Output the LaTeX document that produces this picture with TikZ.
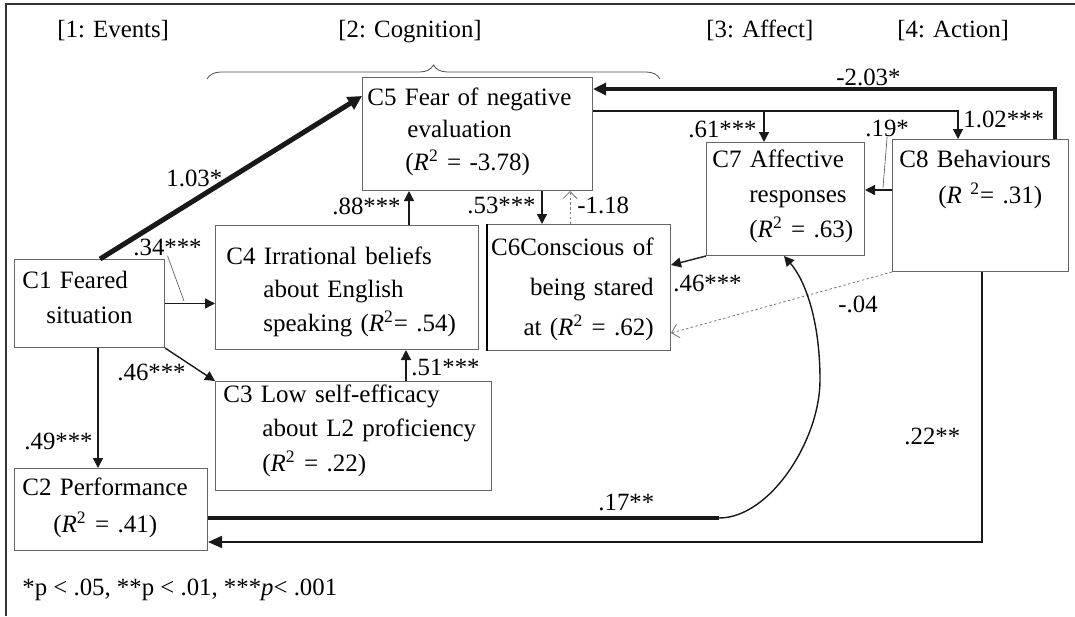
\documentclass[tikz,border=0pt]{standalone}
\usepackage{fontspec}
\setmainfont{Liberation Serif}
\usetikzlibrary{arrows.meta,decorations.pathreplacing}

\begin{document}
\begin{tikzpicture}[x=0.5pt,y=-0.5pt,
  box/.style={draw=black!60, line width=0.5pt, anchor=north west, inner sep=0pt},
  txt/.style={anchor=base west, inner sep=0pt, text width=150pt, align=left,
    font=\fontsize{12.5}{#1}\selectfont},
  lab/.style={anchor=base west, inner sep=0pt, font=\fontsize{12.4}{14}\selectfont},
  conn/.style={draw=black!90, line width=0.7pt, -{Triangle[length=5pt,width=5pt]}},
  dotconn/.style={draw=black!55, line width=0.4pt, dash pattern=on 1.2pt off 1.2pt,
    -{Straight Barb[length=3.5pt,width=7pt]}},
  leader/.style={draw=black!70, line width=0.3pt}]
\def\rsq{\textit{R}\textsuperscript{2}}

\useasboundingbox (0,0) rectangle (1075,616);
\draw[black!80, line width=0.8pt] (1075,4) -- (6,4) -- (6,616);

% stage headings
\node[lab] (events) at (57,37) {[1: Events]};
\node[lab] (cognition) at (338,37) {[2: Cognition]};
\node[lab] (affect) at (706,37) {[3: Affect]};
\node[lab] (action) at (897,37) {[4: Action]};
\draw[black!70, line width=0.4pt, decorate, decoration={brace, amplitude=7pt}]
  (207,79) -- (660,79);

% boxes
\node[box, minimum width=75pt, minimum height=44pt] (c1) at (14,259) {};
\node[box, minimum width=96.5pt, minimum height=41pt] (c2) at (14,468) {};
\node[box, minimum width=138pt, minimum height=54.5pt] (c3) at (215,381) {};
\node[box, minimum width=131.5pt, minimum height=62pt] (c4) at (215,225) {};
\node[box, minimum width=115pt, minimum height=56.5pt] (c5) at (362,77) {};
\node[box, minimum width=91.5pt, minimum height=63pt] (c6) at (487,224) {};
\node[box, minimum width=79pt, minimum height=56.5pt] (c7) at (706,142) {};
\node[box, minimum width=88pt, minimum height=66pt] (c8) at (892,139) {};
\draw[line width=1pt] (c6.north west) -- (c6.south west);

\node[txt=17.5pt] (c1txt) at (22,288) {C1 Feared\\\hspace*{12pt}situation};
\node[txt=18.5pt] (c2txt) at (22,495) {C2 Performance\\\hspace*{15.5pt}(\rsq{} = .41)};
\node[txt=17.25pt] (c3txt) at (223,402)
  {C3 Low self-efficacy\\\hspace*{19.5pt}about L2 proficiency\\\hspace*{19.5pt}(\rsq{} = .22)};
\node[txt=16.75pt] (c4txt) at (226,264)
  {C4 Irrational beliefs\\\hspace*{18.5pt}about English\\\hspace*{18.5pt}speaking (\rsq= .54)};
\node[txt=16.25pt] (c5txt) at (367,105)
  {C5 Fear of negative\\\hspace*{20pt}evaluation\\\hspace*{19pt}(\rsq{} = -3.78)};
\node[txt=20pt, anchor=base east, align=right] (c6txt) at (654,255)
  {C6Conscious of\\being stared\\at (\rsq{} = .62)};
\node[txt=17.5pt] (c7txt) at (712,167)
  {C7 Affective\\\hspace*{18.5pt}responses\\\hspace*{18.5pt}(\rsq{} = .63)};
\node[txt=18pt] (c8txt) at (899,167)
  {C8 Behaviours\\\hspace*{19.5pt}(\textit{R} \textsuperscript{2}= .31)};

% paths
\draw[draw=black!90, line width=2.5pt, -{Triangle[length=7pt,width=7pt]}]
  (c1.north -| 100,0) -- (c5.west |- 0,96);
\draw[conn] (c1.east) -- (c1.east -| c4.west);
\draw[conn] (c1.south east) -- (c3.north west);
\draw[conn] (c1.south -| 98,0) -- (c2.north -| 98,0);
\draw[conn] (c3.north -| 406,0) -- (c4.south -| 406,0);
\draw[conn] (c4.north -| 409,0) -- (c5.south -| 409,0);
\draw[conn] (c5.south -| 542,0) -- (c6.north -| 542,0);
\draw[dotconn] (c6.north -| 570,0) -- (c5.south -| 570,0);

\coordinate (split) at (764,111);
\draw[conn] (c5.east |- split) -| (c8.north -| 958,0);
\draw[conn] (split) -- (c7.north -| split);
\draw[draw=black!90, line width=2pt, -{Triangle[length=6.5pt,width=6pt]}]
  (c8.north -| 1055,0) |- (c5.east |- 0,89);
\draw[conn] (c8.west |- 0,190) -- (c7.east |- 0,190);
\draw[conn] (c7.south west) -- (c6.east |- 0,265);
\draw[dotconn] (c8.south west) -- (c6.east |- 0,333);

\coordinate (bend) at (719,518);
\draw[draw=black!90, line width=1.7pt] (c2.east |- bend) -- (bend);
\draw[conn] (bend) .. controls (770,518) and (820,440) .. (820,380)
  .. controls (820,320) and (805,280) .. (c7.south -| 784,0);
\draw[draw=black!90, line width=0.9pt, -{Triangle[length=7pt,width=6pt]}]
  (c8.south -| 982,0) |- (c2.east |- 0,542);

% coefficients
\node[lab] (lab15) at (166,186) {1.03*};
\node[lab] (lab14) at (133,255) {.34***};
\node[lab] (lab13) at (117,380) {.46***};
\node[lab] (lab12) at (24,449) {.49***};
\node[lab] (lab34) at (411,375) {.51***};
\node[lab] (lab45) at (332,214) {.88***};
\node[lab] (lab56) at (467,213) {.53***};
\node[lab] (lab65) at (577,213) {-1.18};
\node[lab] (lab57) at (688,137) {.61***};
\node[lab] (lab58) at (963,127) {1.02***};
\node[lab] (lab85) at (836,85) {-2.03*};
\node[lab] (lab87) at (865,136) {.19*};
\node[lab] (lab76) at (673,291) {.46***};
\node[lab] (lab86) at (838,312) {-.04};
\node[lab] (lab27) at (598,510) {.17**};
\node[lab] (lab82) at (904,444) {.22**};

\coordinate (p14) at (184,301);
\draw[leader] (lab14.south) -- (p14);
\coordinate (p87) at (883,188);
\draw[leader] (lab87.south) -- (p87);

\node[lab] (note) at (22,595) {*p < .05, **p < .01, ***\textit{p}< .001};
\end{tikzpicture}
\end{document}
